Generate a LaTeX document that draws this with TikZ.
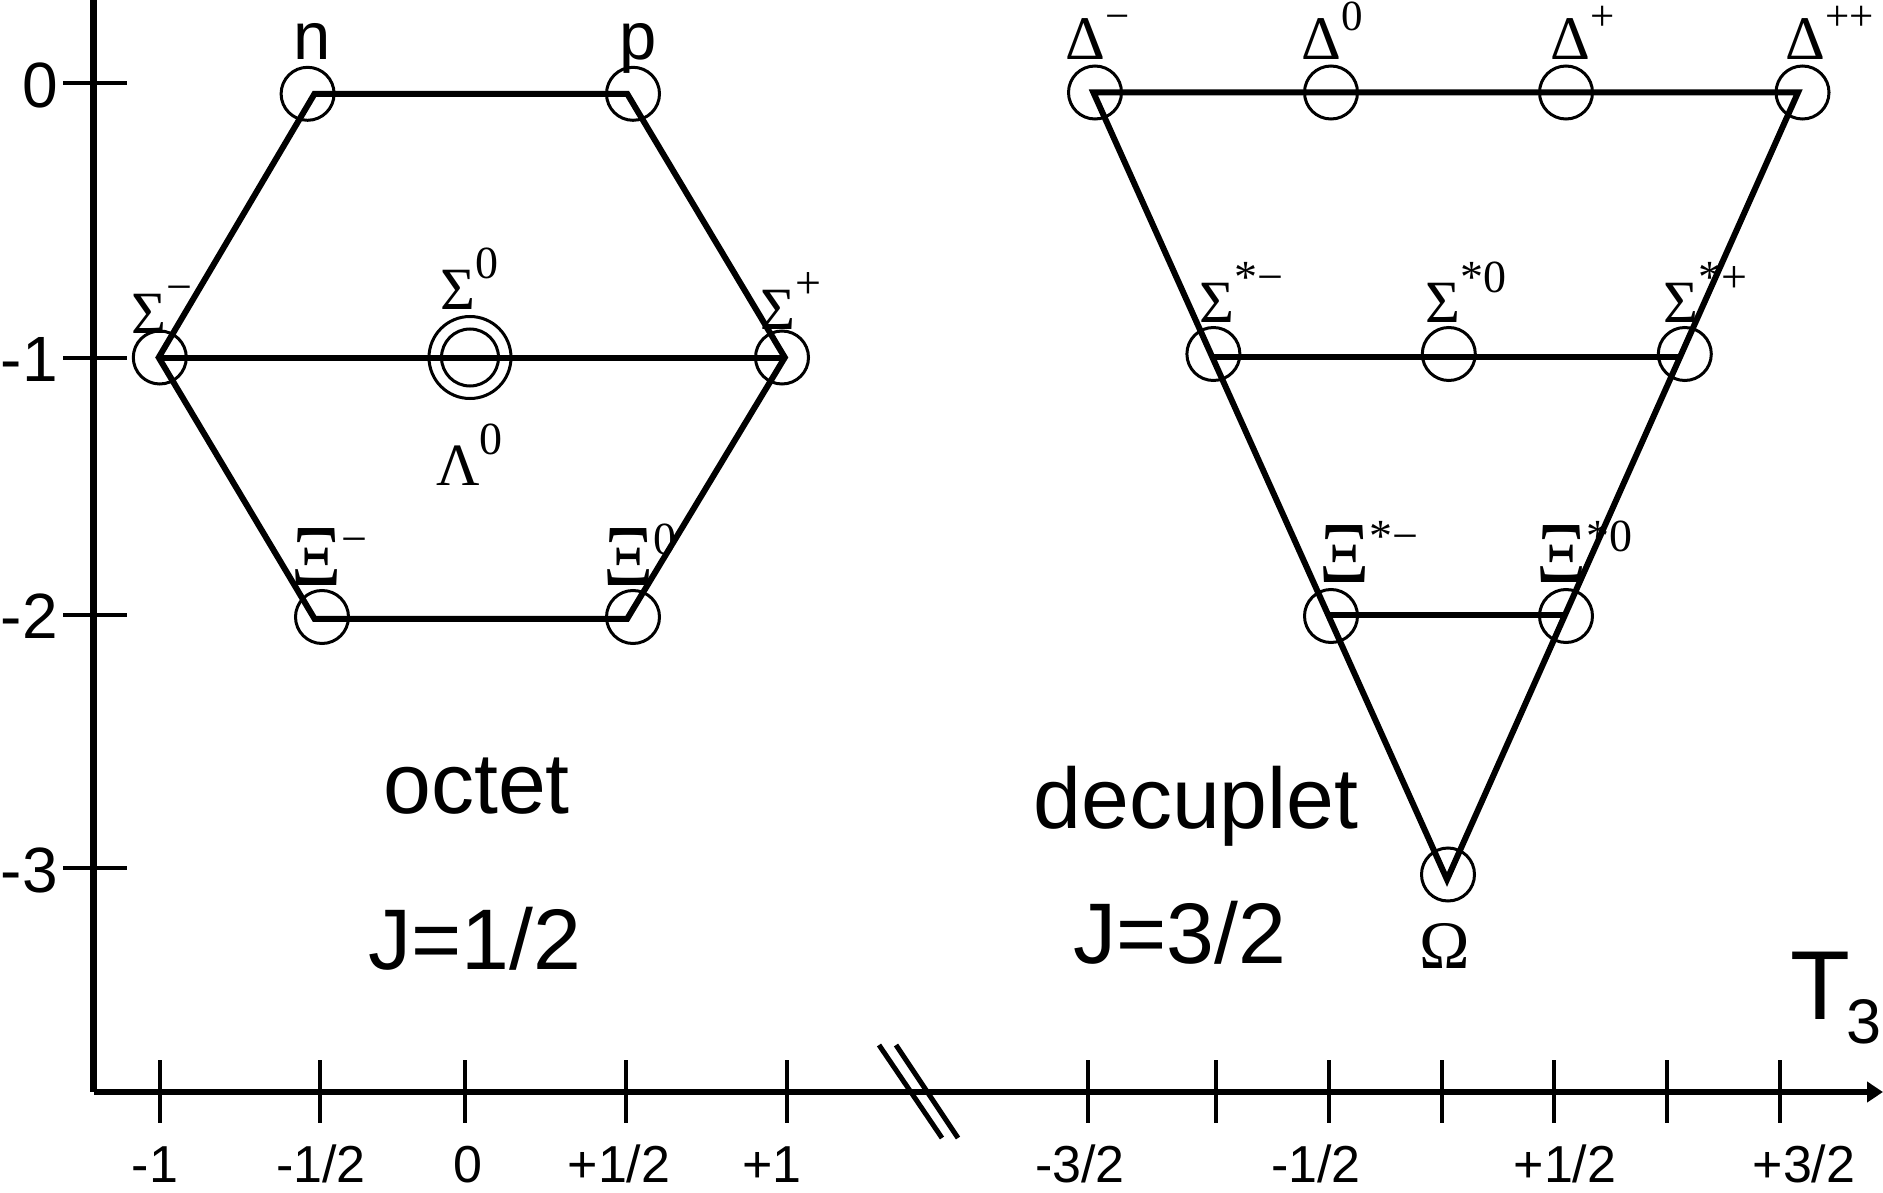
\documentclass[tikz,border=0pt]{standalone}
\usepackage{fontspec}
\usepackage{graphicx}
\setmainfont{Liberation Sans}
\newfontfamily\grk{Liberation Serif}
\usetikzlibrary{arrows.meta}
\newcommand\fs[1]{\fontsize{#1}{#1}\selectfont}
\newcommand\up[1]{\raisebox{31pt}{\fs{46}#1}}
\newcommand\upd[1]{\raisebox{29.5pt}{\fs{43}#1}}
\newcommand\myXi{\scalebox{1.3}[1.45]{Ξ}}
\begin{document}
\begin{tikzpicture}[x=1pt,y=-1pt,
  part/.style={circle, draw, line width=3pt, minimum size=53pt, inner sep=0pt},
  mult/.style={line width=6pt, line join=miter},
  axisline/.style={line width=6.5pt},
  tickline/.style={line width=4pt},
  glab/.style={inner sep=0pt, anchor=base west, font={\grk\fs{60}}},
  xlab/.style={inner sep=0pt, anchor=base, font={\fs{52}}},
  ylab/.style={inner sep=0pt, anchor=east, font={\fs{64}}},
  big/.style={inner sep=0pt, anchor=base, font={\fs{86}}},
  slash/.style={line width=5pt}]
\useasboundingbox (0,0) rectangle (1883,1193);

% axes
\coordinate (ytop) at (93.5,0);
\coordinate (orig) at (93.5,1092);
\coordinate (xend) at (1883,1092);
\draw[axisline] (ytop) -- (orig);
\draw[axisline, -{Triangle[length=16pt,width=20pt]}] (orig) -- (xend);

% y ticks and labels
\foreach \yy/\lab [count=\i] in {83/0, 357.5/-1, 614.6/-2, 868/-3}{
  \coordinate (ytl\i) at (63,\yy);
  \coordinate (ytr\i) at (127,\yy);
  \draw[tickline] (ytl\i) -- (ytr\i);
  \node[ylab] (ylab\i) at (58,\yy+2) {\lab};
}

% x ticks
\foreach \xx [count=\i] in {160,320.2,465.1,626,787.1,1087.8,1216.3,1329.1,1441.9,1554.1,1666.8,1779.6}{
  \coordinate (xtt\i) at (\xx,1060);
  \coordinate (xtb\i) at (\xx,1123);
  \draw[tickline] (xtt\i) -- (xtb\i);
}
% x labels
\node[xlab] (xl1) at (155,1182) {-1};
\node[xlab] (xl2) at (321,1182) {-1/2};
\node[xlab] (xl3) at (467.5,1182) {0};
\node[xlab] (xl4) at (619,1182) {+1/2};
\node[xlab] (xl5) at (772,1182) {+1};
\node[xlab] (xl6) at (1080,1182) {-3/2};
\node[xlab] (xl7) at (1316,1182) {-1/2};
\node[xlab] (xl8) at (1565,1182) {+1/2};
\node[xlab] (xl9) at (1804,1182) {+3/2};

% axis break
\coordinate (s1a) at (879,1045); \coordinate (s1b) at (942,1138);
\coordinate (s2a) at (896,1045); \coordinate (s2b) at (958,1138);
\draw[slash] (s1a) -- (s1b);
\draw[slash] (s2a) -- (s2b);

% T3
\node[inner sep=0pt, anchor=base west, font={\fs{98}}] (T) at (1790,1019) {T};
\node[inner sep=0pt, anchor=base west, font={\fs{63}}] (T3) at (1846,1043) {3};

% ---------- octet ----------
\coordinate (h1) at (314.5,93.8);
\coordinate (h2) at (627.2,93.8);
\coordinate (h3) at (784.8,357.5);
\coordinate (h4) at (627.2,618.75);
\coordinate (h5) at (314.5,618.75);
\coordinate (h6) at (158.7,357.5);
\draw[mult] (h1) -- (h2) -- (h3) -- (h4) -- (h5) -- (h6) -- cycle;
\draw[mult] (h6) -- (h3);

\node[part] (cn) at (307.6,93.8) {};
\node[part] (cp) at (633,93.8) {};
\node[part] (csm) at (159.8,357.5) {};
\node[part, minimum size=82pt] (cs0o) at (470,357.5) {};
\node[part, minimum size=57pt] (cs0i) at (470,357.5) {};
\node[part] (csp) at (782,357.5) {};
\node[part] (cxm) at (322,617) {};
\node[part] (cx0) at (633,617) {};

\node[inner sep=0pt, anchor=base, font={\fs{67}}] (ln) at (312,60) {n};
\node[inner sep=0pt, anchor=base, font={\fs{67}}] (lp) at (638,60) {p};
\node[glab] (lsm) at (131,333) {Σ\up{−}};
\node[glab] (ls0) at (440,309) {Σ\up{0}};
\node[glab] (lsp) at (760,329) {Σ\up{+}};
\node[glab] (ll0) at (436,485) {Λ\up{0}};
\node[glab] (lxm) at (291,585) {\myXi\up{−}};
\node[glab] (lx0) at (603,585) {\myXi\up{0}};

\node[big] (oct) at (476.5,813) {octet};
\node[big] (j1) at (474.5,969) {J=1/2};

% ---------- decuplet ----------
\coordinate (d1) at (1093.4,92.5);
\coordinate (d2) at (1798,92.5);
\coordinate (d3) at (1447,879.5);
\coordinate (m1) at (1213,357);
\coordinate (m2) at (1680,357);
\coordinate (b1) at (1329,614.6);
\coordinate (b2) at (1566,614.6);
\draw[mult] (d1) -- (d2) -- (d3) -- cycle;
\draw[mult] (m1) -- (m2);
\draw[mult] (b1) -- (b2);

\node[part] (cdm) at (1095,92.5) {};
\node[part] (cd0) at (1331,92.5) {};
\node[part] (cdp) at (1566,92.5) {};
\node[part] (cdpp) at (1802.5,92.5) {};
\node[part] (cssm) at (1213.4,354) {};
\node[part] (css0) at (1448.8,354) {};
\node[part] (cssp) at (1684.8,354) {};
\node[part] (cxsm) at (1331,616) {};
\node[part] (cxs0) at (1566,616) {};
\node[part] (com) at (1448,874.5) {};

\node[glab, font={\grk\fs{62}}] (ldm) at (1065,60) {Δ\upd{−}};
\node[glab, font={\grk\fs{62}}] (ld0) at (1301,60) {Δ\upd{0}};
\node[glab, font={\grk\fs{62}}] (ldp) at (1550,60) {Δ\upd{+}};
\node[glab, font={\grk\fs{62}}] (ldpp) at (1785,60) {Δ\upd{++}};
\node[glab] (lssm) at (1199,323) {Σ\up{*−}};
\node[glab] (lss0) at (1425,323) {Σ\up{*0}};
\node[glab] (lssp) at (1663,323) {Σ\up{*+}};
\node[glab] (lxsm) at (1319,582) {\myXi\up{*−}};
\node[glab] (lxs0) at (1536,582) {\myXi\up{*0}};
\node[inner sep=0pt, anchor=base, font={\grk\fs{68}}] (lom) at (1445,968) {Ω};

\node[big] (dec) at (1196,828) {decuplet};
\node[big] (j3) at (1180,963) {J=3/2};
\end{tikzpicture}
\end{document}
